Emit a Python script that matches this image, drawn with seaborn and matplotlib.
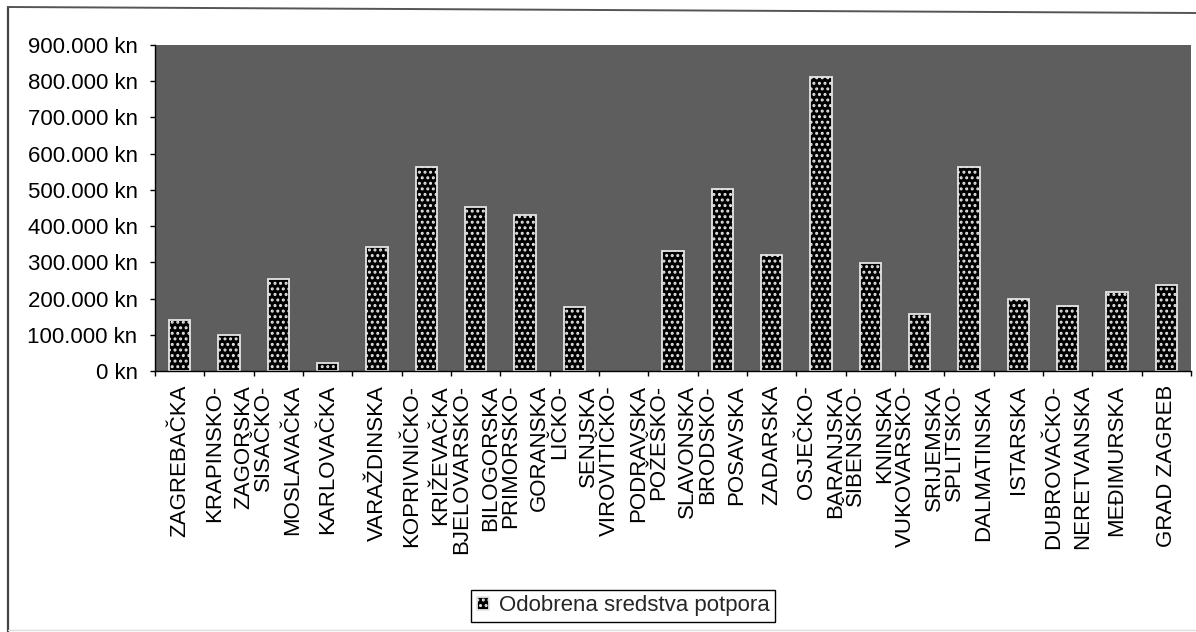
import matplotlib
matplotlib.use("Agg")
import matplotlib.pyplot as plt
import matplotlib.ticker as mticker
from matplotlib.lines import Line2D
import seaborn as sns
import pandas as pd
import numpy as np

# ---- data ----
categories = [
    "ZAGREBAČKA",
    "KRAPINSKO-\nZAGORSKA",
    "SISAČKO-\nMOSLAVAČKA",
    "KARLOVAČKA",
    "VARAŽDINSKA",
    "KOPRIVNIČKO-\nKRIŽEVAČKA",
    "BJELOVARSKO-\nBILOGORSKA",
    "PRIMORSKO-\nGORANSKA",
    "LIČKO-\nSENJSKA",
    "VIROVITIČKO-\nPODRAVSKA",
    "POŽEŠKO-\nSLAVONSKA",
    "BRODSKO-\nPOSAVSKA",
    "ZADARSKA",
    "OSJEČKO-\nBARANJSKA",
    "ŠIBENSKO-\nKNINSKA",
    "VUKOVARSKO-\nSRIJEMSKA",
    "SPLITSKO-\nDALMATINSKA",
    "ISTARSKA",
    "DUBROVAČKO-\nNERETVANSKA",
    "MEĐIMURSKA",
    "GRAD ZAGREB",
]
values = [141000, 99000, 254000, 23000, 341000, 564000, 452000, 432000,
          177000, 0, 332000, 502000, 320000, 812000, 299000, 157000,
          564000, 200000, 180000, 217000, 237000]
series_label = "Odobrena sredstva potpora"
y_ticks = [0, 100000, 200000, 300000, 400000, 500000, 600000, 700000, 800000, 900000]

df = pd.DataFrame({"zupanija": categories, "iznos": values})

sns.set_theme(style="white")
plt.rcParams["font.family"] = ["Liberation Sans", "DejaVu Sans"]
plt.rcParams["hatch.color"] = "#e6e6e6"
plt.rcParams["hatch.linewidth"] = 1.4

W, H = 1196, 632
fig = plt.figure(figsize=(W / 100, H / 100), dpi=100)
fig.patch.set_facecolor("white")
ax = fig.add_axes([155 / W, 1 - 371 / H, (1191 - 155) / W, (371 - 45) / H])
ax.set_facecolor("#5e5e5e")

sns.barplot(data=df, x="zupanija", y="iznos", color="black", width=0.43,
            saturation=1, label=series_label, ax=ax,
            edgecolor="#e6e6e6", linewidth=1.3)
for p in ax.patches:
    p.set_facecolor("black")
    p.set_hatch("...")
    if p.get_height() == 0:
        p.set_linewidth(0)
        p.set_hatch(None)

ax.set_xlim(-0.5, len(categories) - 0.5)
ax.set_ylim(0, 900000)
ax.set_yticks(y_ticks)
ax.yaxis.set_major_formatter(mticker.FuncFormatter(
    lambda v, pos: f"{int(round(v)):,}".replace(",", ".") + " kn"))
ax.set_xlabel("")
ax.set_ylabel("")

for s in ["top", "right"]:
    ax.spines[s].set_visible(False)
for s in ["left", "bottom"]:
    ax.spines[s].set_color("black")
    ax.spines[s].set_linewidth(1.0)

ax.tick_params(axis="y", which="major", direction="out", length=3.6, width=1,
               color="black", pad=9, labelsize=16, labelcolor="black", left=True)
ax.tick_params(axis="x", which="major", length=0, pad=10, labelsize=16,
               labelcolor="black", bottom=True)
ax.set_xticks(np.arange(-0.5, len(categories), 1.0), minor=True)
ax.tick_params(axis="x", which="minor", direction="out", length=3.6, width=1,
               color="black", bottom=True)
for lab in ax.get_xticklabels():
    lab.set_rotation(90)
    lab.set_va("top")
    lab.set_ha("center")
    lab.set_multialignment("right")
    lab.set_linespacing(1.5)

leg = ax.legend(loc="center", bbox_to_anchor=(623 / W, 1 - 606 / H),
                bbox_transform=fig.transFigure, fontsize=16, frameon=True,
                fancybox=False, framealpha=1, edgecolor="black",
                borderpad=0.25, handlelength=0.55, handleheight=0.55,
                handletextpad=0.45)
leg.get_frame().set_linewidth(1.0)

# scanned page frame
fig.add_artist(Line2D([8 / W, 8 / W], [1 - 7 / H, 0], color="#444444", lw=1.6,
                      transform=fig.transFigure))
fig.add_artist(Line2D([8 / W, 1.0], [1 - 7 / H, 1 - 13 / H], color="#555555", lw=1.4,
                      transform=fig.transFigure))
fig.add_artist(Line2D([8 / W, 1.0], [1 - 630 / H, 1 - 630 / H], color="#dddddd", lw=1.0,
                      transform=fig.transFigure))

fig.savefig("out.png", dpi=100)
